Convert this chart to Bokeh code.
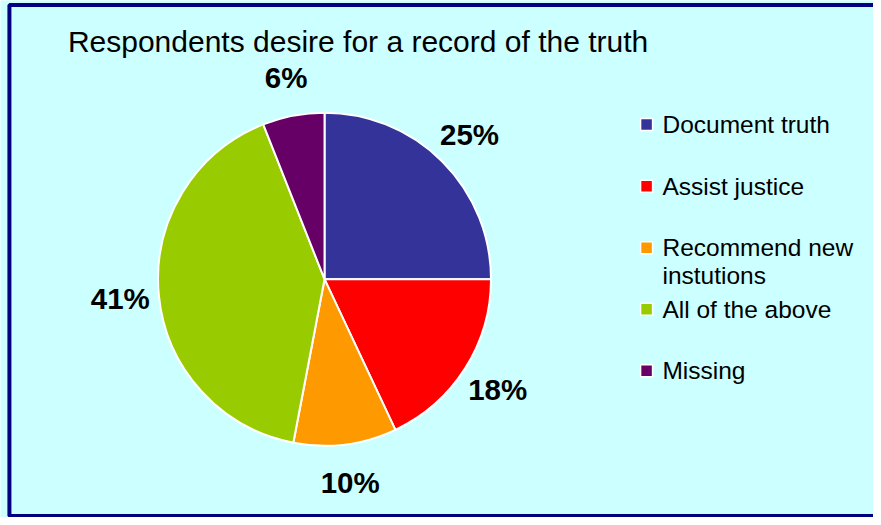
import math
from bokeh.plotting import figure
from bokeh.models import Range1d, ColumnDataSource, BoxAnnotation
from bokeh.core.properties import value
from bokeh.embed import file_html
from bokeh.resources import INLINE

title = "Respondents desire for a record of the truth"
categories = ["Document truth", "Assist justice", "Recommend new\ninstutions", "All of the above", "Missing"]
percents = [25, 18, 10, 41, 6]
colors = ["#333399", "#FF0000", "#FF9900", "#99CC00", "#660066"]

W, H = 873, 517
SX, SY = W / 881, H / 525


def X(px):
    return px * SX


def Y(py):
    return H - py * SY


p = figure(width=W, height=H, x_range=Range1d(0, W), y_range=Range1d(0, H),
           output_backend="svg", toolbar_location=None, min_border=0,
           x_axis_location=None, y_axis_location=None)
p.grid.visible = False
p.background_fill_color = "#CCFFFF"
p.border_fill_color = "#CCFFFF"
p.outline_line_color = None

# frame border (left, top, bottom visible)
p.add_layout(BoxAnnotation(left=X(9), right=W + 20, bottom=Y(523.5), top=Y(4.5),
                           fill_alpha=0, line_color="#000080", line_alpha=1,
                           line_width=4))

cx, cy, r = X(327), Y(283), 168 * SX
total = sum(percents)
starts, ends, mids = [], [], []
cum = 0.0
for v in percents:
    a0 = math.pi / 2 - 2 * math.pi * (cum + v) / total
    a1 = math.pi / 2 - 2 * math.pi * cum / total
    starts.append(a0)
    ends.append(a1)
    mids.append((a0 + a1) / 2)
    cum += v

src = ColumnDataSource(dict(start=starts, end=ends, color=colors))
p.wedge(x=cx, y=cy, radius=r, start_angle="start", end_angle="end",
        direction="anticlock", fill_color="color", line_color="white",
        line_width=2, source=src)

lr = 207 * SX
lx = [cx + lr * math.cos(m) for m in mids]
ly = [cy + lr * math.sin(m) for m in mids]
p.text(x=lx, y=ly, text=[f"{v}%" for v in percents], text_align="center",
       text_baseline="middle", text_font=value("Liberation Sans"),
       text_font_size="29.5px", text_font_style="bold", text_color="black")

# title
p.text(x=[X(68)], y=[Y(42)], text=[title], text_align="left", text_baseline="alphabetic",
       text_font=value("Liberation Sans"), text_font_size="30px", text_color="black")

# legend
row_px = [126, 188.5, 251, 313.5, 376]
rows_y = [Y(v) for v in row_px]
p.scatter(x=[X(652)] * len(categories), y=rows_y, marker="square", size=12,
          fill_color=colors, line_color="white", line_width=1.5)
tx, ty, tt = [], [], []
for i, lab in enumerate(categories):
    for j, line in enumerate(lab.split("\n")):
        tx.append(X(668))
        ty.append(rows_y[i] - j * 28 * SY)
        tt.append(line)
p.text(x=tx, y=ty, text=tt, text_align="left", text_baseline="middle",
       text_font=value("Liberation Sans"), text_font_size="24.5px", text_color="black")

open("out.html", "w").write(file_html(p, INLINE))
